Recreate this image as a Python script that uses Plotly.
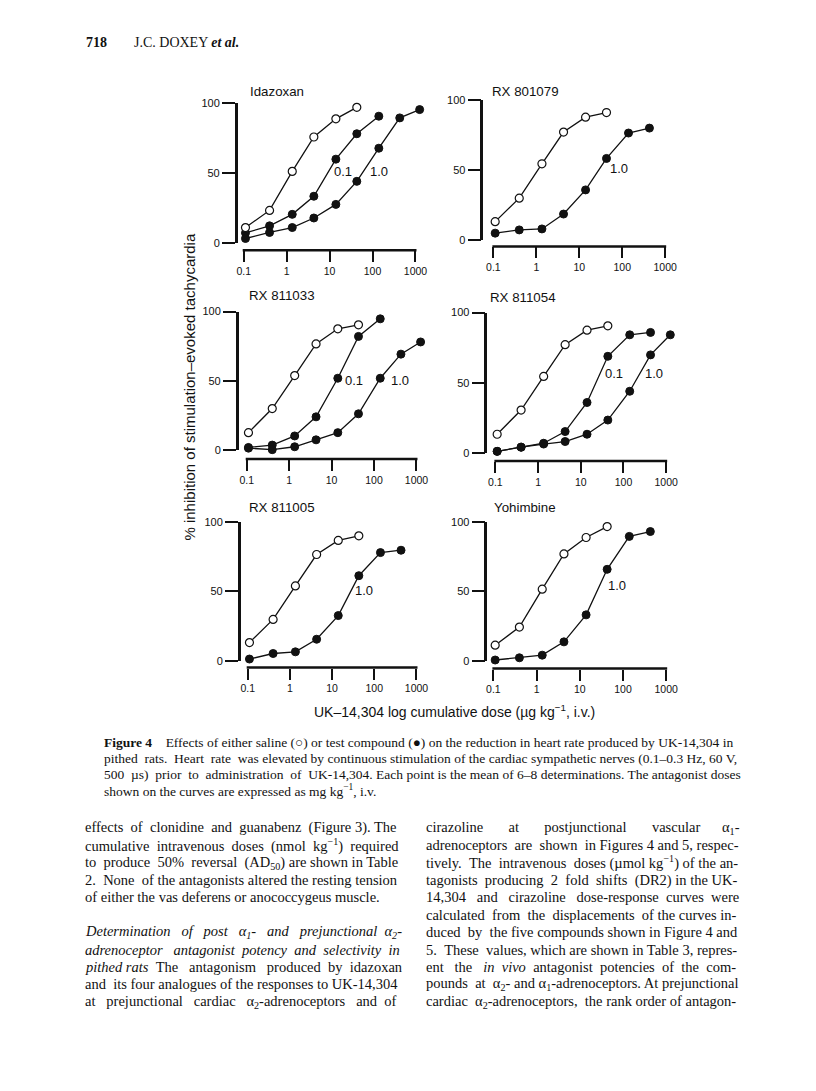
import math
import re
import plotly.graph_objects as go

# The page body keeps the browser's default 8px margin, so the figure is
# sized to the window minus that margin and all page positions are shifted.
PAGE_W, PAGE_H = 816, 1091
OFF = 8
FW, FH = PAGE_W - 2 * OFF, PAGE_H - 2 * OFF

# ---------------- data ----------------
doses = [0.11, 0.4, 1.35, 4.3, 14, 43, 140, 430, 1250]
x_tick_vals = [0.1, 1, 10, 100, 1000]
x_tick_text = ["0.1", "1", "10", "100", "1000"]
y_tick_vals = [0, 50, 100]
y_tick_text = ["0", "50", "100"]

titles = ["Idazoxan", "RX 801079", "RX 811033", "RX 811054", "RX 811005", "Yohimbine"]

idazoxan_saline = [11.3, 23.5, 51.3, 75.8, 88.7, 96.9]
idazoxan_01 = [7.5, 12.5, 20.7, 33.6, 60.0, 78.1, 90.6]
idazoxan_10 = [3.5, 7.8, 11.3, 18.1, 27.8, 44.2, 67.8, 89.4, 95.3]

rx801079_saline = [13.4, 30.1, 54.6, 77.2, 87.8, 91.1]
rx801079_10 = [5.2, 7.5, 8.2, 18.8, 36.0, 58.4, 76.5, 80.0]

rx811033_saline = [12.6, 30.0, 53.8, 76.7, 87.6, 90.5]
rx811033_01 = [1.9, 3.6, 10.2, 24.0, 51.9, 82.1, 94.8]
rx811033_10 = [1.4, 0.3, 2.4, 7.4, 12.6, 26.2, 51.9, 69.3, 78.1]

rx811054_saline = [13.4, 30.6, 54.6, 77.2, 87.5, 90.6]
rx811054_01 = [1.2, 4.2, 7.0, 15.3, 36.0, 68.9, 84.2, 85.9]
rx811054_10 = [1.2, 4.2, 6.4, 8.2, 13.4, 23.5, 44.0, 69.9, 84.2]

rx811005_saline = [13.1, 29.8, 54.0, 76.7, 86.9, 90.2]
rx811005_10 = [1.2, 5.2, 6.4, 15.5, 32.6, 61.4, 78.1, 79.8]

yohimbine_saline = [11.2, 24.3, 51.7, 77.1, 89.0, 96.9]
yohimbine_10 = [0.5, 2.1, 4.0, 13.6, 33.1, 66.0, 89.8, 93.3]

panel_saline = [idazoxan_saline, rx801079_saline, rx811033_saline,
                rx811054_saline, rx811005_saline, yohimbine_saline]
panel_drug = [[idazoxan_01, idazoxan_10], [rx801079_10],
              [rx811033_01, rx811033_10], [rx811054_01, rx811054_10],
              [rx811005_10], [yohimbine_10]]

# curve labels: (text, dose, % inhibition)
panel_labels = [
    [("0.1", 20, 51), ("1.0", 145, 51)],
    [("1.0", 85, 51)],
    [("0.1", 33, 50), ("1.0", 417, 50)],
    [("0.1", 60, 57), ("1.0", 525, 57)],
    [("1.0", 56, 51)],
    [("1.0", 74, 54)],
]

# ---------------- geometry (page pixels) ----------------
# [y-axis x, x of 0.1, x of 1000, y of 0, y of 100, x-axis line y]
geom = [
    [237, 243, 415, 240, 98, 247],
    [483, 493, 665, 237, 95, 243],
    [238, 246, 416, 449, 309, 458],
    [487, 495, 666, 452, 310, 460],
    [240, 247, 416, 662, 522, 669],
    [487, 493, 666, 662, 522, 670],
]
title_pos = [(247, 86), (490, 86), (246, 293), (488, 295), (246, 507), (492, 507)]

FIG_FONT = "Liberation Sans, Arial, sans-serif"
TEXT_FONT = "Liberation Serif, Times New Roman, serif"
INK = "#111111"


def px(xp):
    return (xp - OFF) / FW


def py(yp):
    return 1 - (yp - OFF) / FH


# ---------- simple Times width estimate for justified text ----------
TW = {" ": 250, "\u00a0": 250, "!": 333, "%": 833, "(": 333, ")": 333, ",": 250,
      "-": 333, ".": 250, "/": 278, ":": 278, ";": 278, "?": 444,
      "\u2013": 500, "\u2212": 564, "\u00b5": 500, "\u03b1": 530,
      "\u25cb": 800, "\u25cf": 800}
for c in "0123456789":
    TW[c] = 500
TW.update(dict(zip("ABCDEFGHIJKLMNOPQRSTUVWXYZ",
                   [722, 667, 667, 722, 611, 556, 722, 722, 333, 389, 722, 611, 889,
                    722, 722, 556, 722, 667, 556, 611, 722, 722, 944, 722, 722, 611])))
TW.update(dict(zip("abcdefghijklmnopqrstuvwxyz",
                   [444, 500, 444, 500, 444, 333, 500, 500, 278, 278, 500, 278, 778,
                    500, 500, 500, 500, 333, 389, 278, 500, 500, 722, 500, 500, 444])))


def plain_w(s):
    s = re.sub(r"</?[bi]>", "", s)
    return sum(TW.get(ch, 500) for ch in s)


def word_w(s):
    total, pos = 0, 0
    for m in re.finditer(r"<(sub|sup)>(.*?)</\1>", s):
        total += plain_w(s[pos:m.start()]) + 0.7 * plain_w(m.group(2))
        pos = m.end()
    total += plain_w(s[pos:])
    if "<b>" in s:
        total *= 1.06
    return total / 1000.0


def justify(line, target_px, size):
    words = line.split(" ")
    if len(words) < 2:
        return line
    natural = sum(word_w(w) for w in words) * size + (len(words) - 1) * 0.25 * size
    extra = target_px - natural
    n_extra = int(round(extra / (0.25 * size)))
    if n_extra <= 0:
        return line
    gaps = len(words) - 1
    base, rem = divmod(n_extra, gaps)
    out = words[0]
    for g in range(gaps):
        k = base + (1 if g < rem else 0)
        out += " " + "\u00a0" * k + words[g + 1]
    return out


fig = go.Figure()
layout = {}
annotations = []
shapes = []

HI = 3.3
for i in range(6):
    yax_x, x01, x1000, y0, y100, xline = geom[i]
    dec = (x1000 - x01) / 4.0
    lo = -1 - (x01 - yax_x) / dec
    dom_l = yax_x
    dom_r = x1000 + (HI - 3) * dec
    n = i + 1
    xa = "xaxis" if n == 1 else f"xaxis{n}"
    ya = "yaxis" if n == 1 else f"yaxis{n}"
    xr = "x" if n == 1 else f"x{n}"
    yr = "y" if n == 1 else f"y{n}"

    layout[xa] = dict(
        type="log", range=[lo, HI], domain=[px(dom_l), px(dom_r)],
        anchor="free", position=py(xline),
        showline=False, showgrid=False, zeroline=False,
        tickvals=x_tick_vals, ticktext=x_tick_text,
        ticks="outside", ticklen=11, tickwidth=2, tickcolor=INK,
        tickfont=dict(family=FIG_FONT, size=10.5, color=INK),
    )
    layout[ya] = dict(
        range=[0, 100], domain=[py(y0), py(y100)],
        anchor=xr, showline=True, linewidth=2.5, linecolor=INK,
        showgrid=False, zeroline=False,
        tickvals=y_tick_vals, ticktext=y_tick_text,
        ticks="outside", ticklen=13, tickwidth=2, tickcolor=INK,
        tickfont=dict(family=FIG_FONT, size=11, color=INK),
    )
    # x-axis baseline spanning only the tick range (0.1 .. 1000)
    shapes.append(dict(type="line", xref="paper", yref="paper",
                       x0=px(x01 - 1), x1=px(x1000 + 1), y0=py(xline), y1=py(xline),
                       line=dict(color=INK, width=2.5)))

    for series in panel_drug[i]:
        fig.add_trace(go.Scatter(
            x=doses[:len(series)], y=series, xaxis=xr, yaxis=yr,
            mode="lines+markers", cliponaxis=False, showlegend=False,
            line=dict(color=INK, width=1.3),
            marker=dict(symbol="circle", size=8, color=INK,
                        line=dict(color=INK, width=1)),
        ))
    s = panel_saline[i]
    fig.add_trace(go.Scatter(
        x=doses[:len(s)], y=s, xaxis=xr, yaxis=yr,
        mode="lines+markers", cliponaxis=False, showlegend=False,
        line=dict(color=INK, width=1.3),
        marker=dict(symbol="circle", size=8, color="white",
                    line=dict(color=INK, width=1.2)),
    ))

    for (txt, d, v) in panel_labels[i]:
        annotations.append(dict(
            text=txt, xref=xr, yref=yr, x=math.log10(d), y=v,
            showarrow=False, xanchor="center", yanchor="middle",
            font=dict(family=FIG_FONT, size=13, color=INK)))

    tx, ty = title_pos[i]
    annotations.append(dict(
        text=titles[i], xref="paper", yref="paper", x=px(tx), y=py(ty),
        showarrow=False, xanchor="left", yanchor="middle",
        font=dict(family=FIG_FONT, size=13.3, color=INK)))

# axis titles
annotations.append(dict(
    text="% inhibition of stimulation\u2013evoked tachycardia",
    xref="paper", yref="paper", x=px(189), y=py(385), textangle=-90,
    showarrow=False, xanchor="center", yanchor="middle",
    font=dict(family=FIG_FONT, size=15, color=INK)))
annotations.append(dict(
    text="UK\u201314,304 log cumulative dose (\u00b5g kg<sup>\u22121</sup>, i.v.)",
    xref="paper", yref="paper", x=px(311), y=py(713),
    showarrow=False, xanchor="left", yanchor="middle",
    font=dict(family=FIG_FONT, size=14, color=INK)))

# page header
annotations.append(dict(
    text="<b>718</b>", xref="paper", yref="paper", x=px(83), y=py(37),
    showarrow=False, xanchor="left", yanchor="middle",
    font=dict(family=TEXT_FONT, size=14, color=INK)))
annotations.append(dict(
    text="J.C. DOXEY <b><i>et al.</i></b>", xref="paper", yref="paper",
    x=px(131), y=py(37), showarrow=False, xanchor="left", yanchor="middle",
    font=dict(family=TEXT_FONT, size=14, color=INK)))

# caption
CAP_SIZE = 13.5
caption = [
    ("<b>Figure\u00a04</b>\u00a0\u00a0\u00a0\u00a0Effects of either saline (\u25cb) or test compound (\u25cf) on the reduction in heart rate produced by UK-14,304 in", True),
    ("pithed rats. Heart rate was elevated by continuous stimulation of the cardiac sympathetic nerves (0.1\u20130.3 Hz, 60 V,", True),
    ("500 \u00b5s) prior to administration of UK-14,304. Each point is the mean of 6\u20138 determinations. The antagonist doses", True),
    ("shown on the curves are expressed as mg kg<sup>\u22121</sup>, i.v.", False),
]
for k, (line, just) in enumerate(caption):
    txt = justify(line, 736 - 101, CAP_SIZE) if just else line
    annotations.append(dict(
        text=txt, xref="paper", yref="paper", x=px(101), y=py(745 + 16 * k),
        showarrow=False, xanchor="left", yanchor="middle",
        font=dict(family=TEXT_FONT, size=CAP_SIZE, color=INK)))

BODY_SIZE = 14.5
left_col = [
    ("effects of clonidine and guanabenz (Figure 3). The", True),
    ("cumulative intravenous doses (nmol kg<sup>\u22121</sup>) required", True),
    ("to produce 50% reversal (AD<sub>50</sub>) are shown in Table", True),
    ("2. None of the antagonists altered the resting tension", True),
    ("of either the vas deferens or anococcygeus muscle.", False),
    ("", False),
    ("<i>Determination of post \u03b1<sub>1</sub>- and prejunctional \u03b1<sub>2</sub>-</i>", True),
    ("<i>adrenoceptor antagonist potency and selectivity in</i>", True),
    ("<i>pithed\u00a0rats</i>\u00a0\u00a0The antagonism produced by idazoxan", True),
    ("and its four analogues of the responses to UK-14,304", True),
    ("at prejunctional cardiac \u03b1<sub>2</sub>-adrenoceptors and of", True),
]
right_col = [
    ("cirazoline at postjunctional vascular \u03b1<sub>1</sub>-", True),
    ("adrenoceptors are shown in Figures 4 and 5, respec-", True),
    ("tively. The intravenous doses (\u00b5mol kg<sup>\u22121</sup>) of the an-", True),
    ("tagonists producing 2 fold shifts (DR2) in the UK-", True),
    ("14,304 and cirazoline dose-response curves were", True),
    ("calculated from the displacements of the curves in-", True),
    ("duced by the five compounds shown in Figure 4 and", True),
    ("5. These values, which are shown in Table 3, repres-", True),
    ("ent the <i>in vivo</i> antagonist potencies of the com-", True),
    ("pounds at \u03b1<sub>2</sub>- and \u03b1<sub>1</sub>-adrenoceptors. At prejunctional", True),
    ("cardiac \u03b1<sub>2</sub>-adrenoceptors, the rank order of antagon-", True),
]
for col_x, col_r, col in ((82, 395, left_col), (424, 736, right_col)):
    for k, (line, just) in enumerate(col):
        if not line:
            continue
        txt = justify(line, col_r - col_x, BODY_SIZE) if just else line
        annotations.append(dict(
            text=txt, xref="paper", yref="paper", x=px(col_x), y=py(831 + 17.6 * k),
            showarrow=False, xanchor="left", yanchor="middle",
            font=dict(family=TEXT_FONT, size=BODY_SIZE, color=INK)))

fig.update_layout(
    width=FW, height=FH, margin=dict(l=0, r=0, t=0, b=0),
    paper_bgcolor="white", plot_bgcolor="rgba(0,0,0,0)",
    showlegend=False, annotations=annotations, shapes=shapes,
    **layout,
)

fig.write_html("out.html")
